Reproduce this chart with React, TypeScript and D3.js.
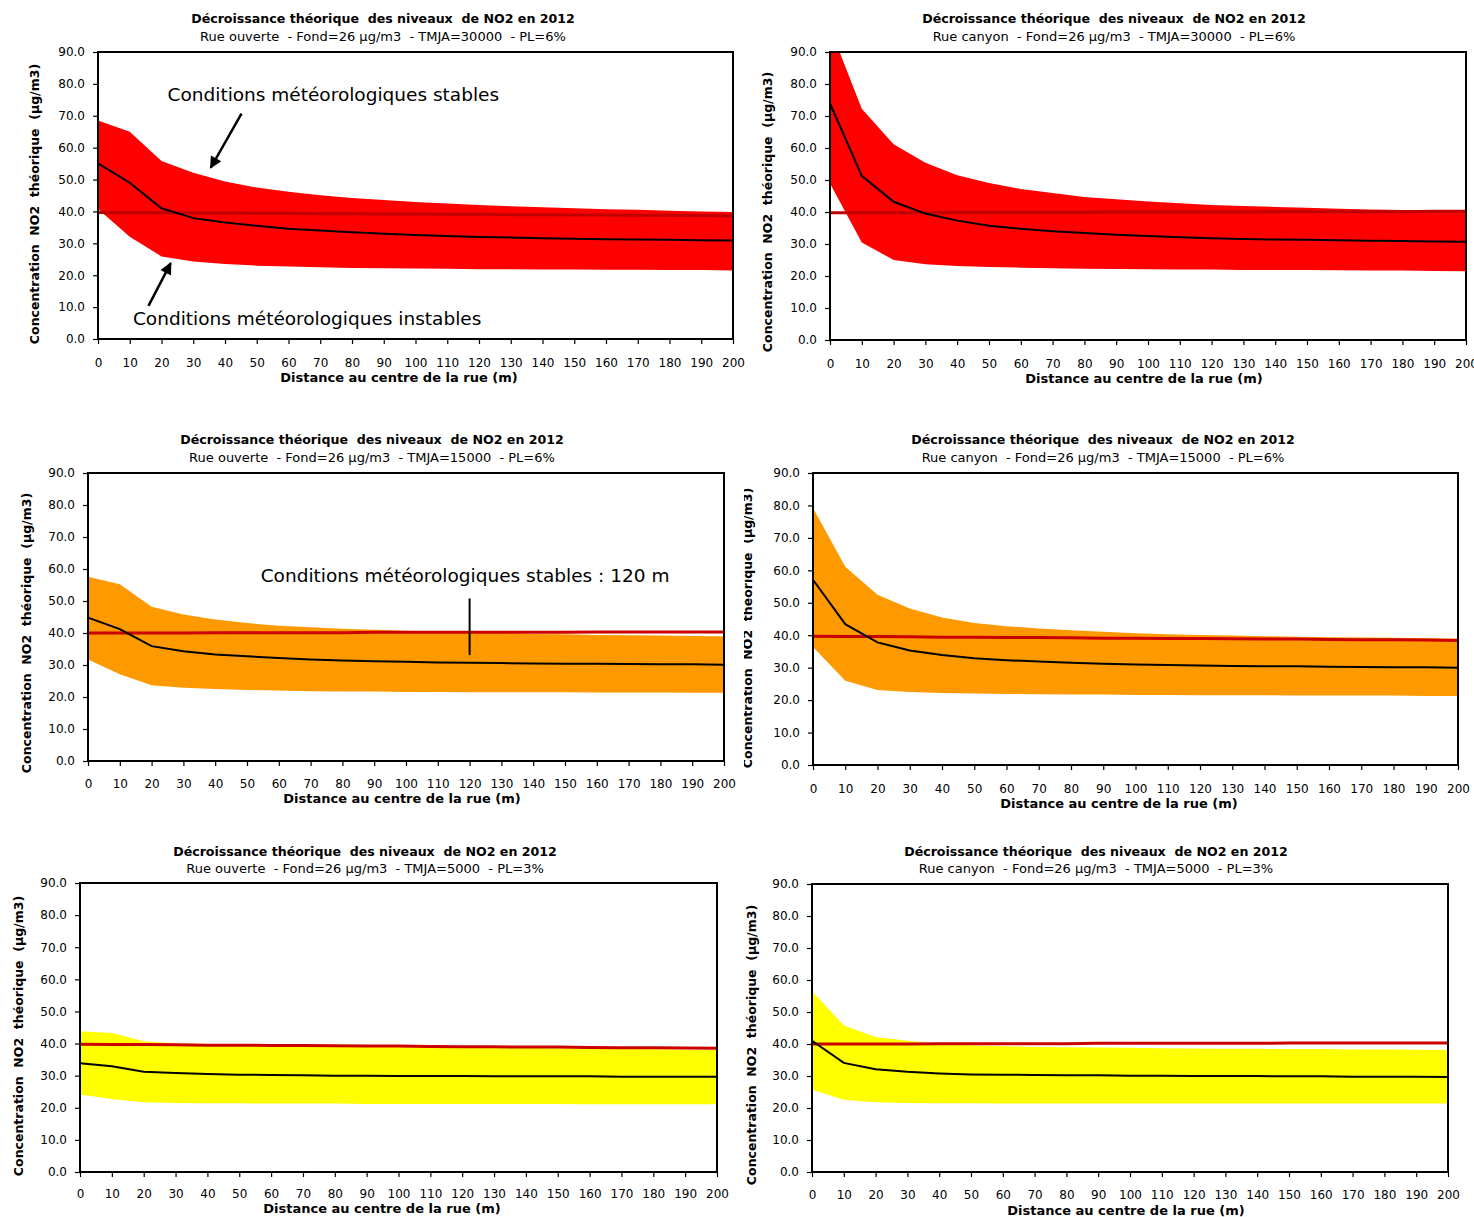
import React, { useEffect, useRef } from "react";
import * as d3 from "d3";

// distances (m) et graduations
const distances = [0, 10, 20, 30, 40, 50, 60, 70, 80, 90, 100, 110, 120, 130, 140, 150, 160, 170, 180, 190, 200];
const yTicks = [0, 10, 20, 30, 40, 50, 60, 70, 80, 90];

const titre = "Décroissance théorique  des niveaux  de NO2 en 2012";
const sousTitres = [
  "Rue ouverte  - Fond=26 µg/m3  - TMJA=30000  - PL=6%",
  "Rue canyon  - Fond=26 µg/m3  - TMJA=30000  - PL=6%",
  "Rue ouverte  - Fond=26 µg/m3  - TMJA=15000  - PL=6%",
  "Rue canyon  - Fond=26 µg/m3  - TMJA=15000  - PL=6%",
  "Rue ouverte  - Fond=26 µg/m3  - TMJA=5000  - PL=3%",
  "Rue canyon  - Fond=26 µg/m3  - TMJA=5000  - PL=3%",
];
const titreX = "Distance au centre de la rue (m)";
const titreY = "Concentration  NO2  théorique  (µg/m3)";

// Rue ouverte, TMJA 30000
const ouverte30000Haut = [68.5, 65.0, 55.8, 52.1, 49.4, 47.5, 46.2, 45.1, 44.2, 43.6, 43.0, 42.5, 42.0, 41.6, 41.3, 41.0, 40.7, 40.5, 40.2, 40.0, 39.8];
const ouverte30000Bas = [40.8, 32.1, 25.9, 24.3, 23.5, 23.0, 22.7, 22.5, 22.3, 22.2, 22.1, 22.0, 21.9, 21.9, 21.8, 21.8, 21.7, 21.7, 21.6, 21.6, 21.5];
const ouverte30000Moy = [55.1, 49.0, 41.0, 37.9, 36.5, 35.5, 34.6, 34.0, 33.5, 33.0, 32.6, 32.3, 32.0, 31.8, 31.6, 31.4, 31.3, 31.2, 31.1, 31.0, 30.9];
const ouverte30000Limite = [39.7, 39.6, 39.6, 39.5, 39.5, 39.4, 39.4, 39.3, 39.3, 39.2, 39.2, 39.1, 39.1, 39.0, 39.0, 38.9, 38.9, 38.8, 38.8, 38.7, 38.6];

// Rue canyon, TMJA 30000
const canyon30000Haut = [97.6, 72.3, 61.2, 55.4, 51.5, 49.1, 47.2, 45.9, 44.7, 44.0, 43.3, 42.7, 42.2, 41.9, 41.6, 41.3, 41.0, 40.8, 40.6, 40.5, 40.4];
const canyon30000Bas = [48.9, 30.5, 25.0, 23.7, 23.1, 22.8, 22.6, 22.4, 22.3, 22.2, 22.1, 22.0, 22.0, 21.9, 21.9, 21.9, 21.8, 21.7, 21.7, 21.6, 21.5];
const canyon30000Moy = [73.9, 51.3, 43.2, 39.5, 37.3, 35.7, 34.8, 34.0, 33.4, 32.9, 32.5, 32.1, 31.8, 31.6, 31.4, 31.3, 31.2, 31.0, 30.9, 30.8, 30.7];
const canyon30000Limite = [39.8, 39.8, 39.8, 39.8, 39.9, 39.9, 39.9, 39.9, 39.9, 40.0, 40.0, 40.0, 40.0, 40.0, 40.1, 40.1, 40.1, 40.1, 40.1, 40.2, 40.2];

// Rue ouverte, TMJA 15000
const ouverte15000Haut = [57.6, 55.2, 48.2, 45.8, 44.2, 43.1, 42.3, 41.8, 41.3, 41.0, 40.7, 40.4, 40.2, 40.0, 39.7, 39.6, 39.4, 39.3, 39.2, 39.1, 39.0];
const ouverte15000Bas = [31.7, 27.1, 23.7, 22.9, 22.5, 22.2, 22.0, 21.8, 21.7, 21.7, 21.6, 21.6, 21.5, 21.5, 21.5, 21.5, 21.4, 21.4, 21.4, 21.3, 21.3];
const ouverte15000Moy = [44.8, 41.2, 35.9, 34.3, 33.3, 32.7, 32.2, 31.7, 31.4, 31.2, 31.0, 30.8, 30.7, 30.6, 30.5, 30.4, 30.4, 30.3, 30.2, 30.2, 30.1];
const ouverte15000Limite = [40.0, 40.0, 40.0, 40.0, 40.1, 40.1, 40.1, 40.1, 40.1, 40.2, 40.2, 40.2, 40.2, 40.2, 40.2, 40.2, 40.3, 40.3, 40.3, 40.3, 40.3];

// Rue canyon, TMJA 15000
const canyon15000Haut = [79.2, 61.1, 52.5, 48.2, 45.5, 43.8, 42.8, 42.1, 41.5, 41.1, 40.6, 40.3, 40.1, 39.9, 39.7, 39.5, 39.4, 39.3, 39.2, 39.1, 39.0];
const canyon15000Bas = [36.4, 26.0, 23.1, 22.5, 22.2, 22.0, 21.9, 21.8, 21.7, 21.7, 21.6, 21.6, 21.5, 21.5, 21.5, 21.4, 21.4, 21.4, 21.4, 21.3, 21.3];
const canyon15000Moy = [57.1, 43.4, 37.8, 35.3, 33.9, 32.9, 32.3, 31.9, 31.5, 31.2, 31.0, 30.8, 30.7, 30.5, 30.4, 30.4, 30.3, 30.2, 30.1, 30.1, 30.0];
const canyon15000Limite = [39.7, 39.6, 39.6, 39.5, 39.4, 39.4, 39.3, 39.3, 39.2, 39.1, 39.1, 39.0, 39.0, 38.9, 38.8, 38.8, 38.7, 38.6, 38.6, 38.5, 38.4];

// Rue ouverte, TMJA 5000
const ouverte5000Haut = [43.8, 43.3, 40.7, 40.1, 39.8, 39.6, 39.5, 39.3, 39.2, 39.1, 39.0, 38.9, 38.8, 38.7, 38.6, 38.5, 38.4, 38.3, 38.2, 38.1, 38.0];
const ouverte5000Bas = [24.1, 22.7, 21.7, 21.5, 21.4, 21.4, 21.3, 21.3, 21.3, 21.2, 21.2, 21.2, 21.2, 21.2, 21.2, 21.2, 21.1, 21.1, 21.1, 21.1, 21.1];
const ouverte5000Moy = [33.9, 32.9, 31.2, 30.8, 30.5, 30.3, 30.2, 30.1, 30.0, 30.0, 29.9, 29.9, 29.9, 29.8, 29.8, 29.8, 29.8, 29.7, 29.7, 29.7, 29.7];
const ouverte5000Limite = [39.8, 39.7, 39.7, 39.6, 39.5, 39.5, 39.4, 39.4, 39.3, 39.2, 39.2, 39.1, 39.0, 39.0, 38.9, 38.9, 38.8, 38.7, 38.7, 38.6, 38.5];

// Rue canyon, TMJA 5000
const canyon5000Haut = [56.5, 45.8, 42.2, 41.0, 40.1, 39.6, 39.3, 39.1, 39.0, 38.9, 38.8, 38.7, 38.6, 38.5, 38.5, 38.4, 38.4, 38.3, 38.3, 38.2, 38.1];
const canyon5000Bas = [25.7, 22.6, 21.8, 21.6, 21.5, 21.5, 21.4, 21.4, 21.4, 21.4, 21.4, 21.4, 21.4, 21.4, 21.4, 21.4, 21.4, 21.4, 21.4, 21.4, 21.4];
const canyon5000Moy = [41.0, 34.1, 32.1, 31.3, 30.8, 30.5, 30.4, 30.3, 30.2, 30.2, 30.1, 30.1, 30.0, 30.0, 30.0, 29.9, 29.9, 29.8, 29.8, 29.8, 29.7];
const canyon5000Limite = [40.0, 40.0, 40.0, 40.0, 40.1, 40.1, 40.1, 40.1, 40.1, 40.2, 40.2, 40.2, 40.2, 40.2, 40.2, 40.3, 40.3, 40.3, 40.3, 40.3, 40.3];

const FONT = "'DejaVu Sans', Verdana, sans-serif";

const panels = [
  { haut: ouverte30000Haut, bas: ouverte30000Bas, moy: ouverte30000Moy, limite: ouverte30000Limite, fill: "#ff0000", limColor: "#c00000",
    left: 98, right: 733, top: 52, bottom: 339, tx: 383, ty: 19, sy: 36, xtx: 399, xty: 377, ytx: 35, yty: 204, labelPad: 14 },
  { haut: canyon30000Haut, bas: canyon30000Bas, moy: canyon30000Moy, limite: canyon30000Limite, fill: "#ff0000", limColor: "#c00000",
    left: 830, right: 1466, top: 52, bottom: 340, tx: 1114, ty: 19, sy: 36, xtx: 1144, xty: 378, ytx: 768, yty: 212, labelPad: 14 },
  { haut: ouverte15000Haut, bas: ouverte15000Bas, moy: ouverte15000Moy, limite: ouverte15000Limite, fill: "#ff9900", limColor: "#cc0000",
    left: 88, right: 724, top: 473, bottom: 761, tx: 372, ty: 440, sy: 457, xtx: 402, xty: 798, ytx: 27, yty: 633, labelPad: 13 },
  { haut: canyon15000Haut, bas: canyon15000Bas, moy: canyon15000Moy, limite: canyon15000Limite, fill: "#ff9900", limColor: "#cc0000",
    left: 813, right: 1458, top: 473, bottom: 765, tx: 1103, ty: 440, sy: 457, xtx: 1119, xty: 803, ytx: 748, yty: 628, labelPad: 14, clipLeft: 744 },
  { haut: ouverte5000Haut, bas: ouverte5000Bas, moy: ouverte5000Moy, limite: ouverte5000Limite, fill: "#ffff00", limColor: "#cc0000",
    left: 80, right: 717, top: 883, bottom: 1172, tx: 365, ty: 852, sy: 868, xtx: 382, xty: 1208, ytx: 19, yty: 1036, labelPad: 12 },
  { haut: canyon5000Haut, bas: canyon5000Bas, moy: canyon5000Moy, limite: canyon5000Limite, fill: "#ffff00", limColor: "#cc0000",
    left: 812, right: 1448, top: 884, bottom: 1172, tx: 1096, ty: 852, sy: 868, xtx: 1126, xty: 1210, ytx: 752, yty: 1045, labelPad: 13 },
];

// annotations (coordonnées en données)
const noteStable = { text: "Conditions météorologiques stables", x: 21.9, y: 76.7, from: [45.2, 70.7], to: [35.5, 53.7] };
const noteInstable = { text: "Conditions météorologiques instables", x: 11.0, y: 6.3, from: [15.9, 10.4], to: [22.9, 23.8] };
const noteDistance = { text: "Conditions météorologiques stables : 120 m", x: 54.3, y: 57.9, at: 120, y0: 33.1, y1: 50.8 };

export default function App() {
  const ref = useRef(null);

  useEffect(() => {
    const svg = d3.select(ref.current);
    svg.selectAll("*").remove();

    svg.append("defs")
      .append("marker")
      .attr("id", "fleche")
      .attr("viewBox", "0 0 10 10")
      .attr("refX", 9)
      .attr("refY", 5)
      .attr("markerUnits", "userSpaceOnUse")
      .attr("markerWidth", 14)
      .attr("markerHeight", 12)
      .attr("orient", "auto")
      .append("path")
      .attr("d", "M0,0L10,5L0,10Z")
      .attr("fill", "black");

    const scales = panels.map((p, i) => {
      const x = d3.scaleLinear().domain([0, 200]).range([p.left, p.right]);
      const y = d3.scaleLinear().domain([0, 90]).range([p.bottom, p.top]);

      const g = svg.append("g");
      if (p.clipLeft) {
        svg.select("defs").append("clipPath").attr("id", "panneau" + i)
          .append("rect").attr("x", p.clipLeft).attr("y", 0).attr("width", 800).attr("height", 1217);
        g.attr("clip-path", `url(#panneau${i})`);
      }
      svg.select("defs").append("clipPath").attr("id", "trace" + i)
        .append("rect").attr("x", p.left).attr("y", p.top)
        .attr("width", p.right - p.left).attr("height", p.bottom - p.top);

      const rows = distances.map((d, k) => ({ d, haut: p.haut[k], bas: p.bas[k], moy: p.moy[k], lim: p.limite[k] }));

      g.append("path")
        .datum(rows)
        .attr("clip-path", `url(#trace${i})`)
        .attr("fill", p.fill)
        .attr("d", d3.area().x(r => x(r.d)).y0(r => y(r.bas)).y1(r => y(r.haut)));

      g.append("path")
        .datum(rows)
        .attr("fill", "none")
        .attr("stroke", p.limColor)
        .attr("stroke-width", 3)
        .attr("d", d3.line().x(r => x(r.d)).y(r => y(r.lim)));

      g.append("path")
        .datum(rows)
        .attr("fill", "none")
        .attr("stroke", "black")
        .attr("stroke-width", 2)
        .attr("d", d3.line().x(r => x(r.d)).y(r => y(r.moy)));

      g.append("rect")
        .attr("x", p.left).attr("y", p.top)
        .attr("width", p.right - p.left).attr("height", p.bottom - p.top)
        .attr("fill", "none").attr("stroke", "black").attr("stroke-width", 2);

      const yAxis = g.append("g")
        .attr("transform", `translate(${p.left},0)`)
        .call(d3.axisLeft(y).tickValues(yTicks).tickFormat(d3.format(".1f")).tickSize(5).tickPadding(8));
      const xAxis = g.append("g")
        .attr("transform", `translate(0,${p.bottom})`)
        .call(d3.axisBottom(x).tickValues(distances).tickFormat(d3.format("d")).tickSize(5).tickPadding(p.labelPad));
      [yAxis, xAxis].forEach(a => {
        a.select(".domain").remove();
        a.selectAll("line").attr("stroke", "black").attr("stroke-width", 1.2);
        a.selectAll("text").attr("font-family", FONT).attr("font-size", 12).attr("fill", "black");
      });

      g.append("text")
        .attr("x", p.tx).attr("y", p.ty).attr("dy", "0.35em")
        .attr("text-anchor", "middle")
        .attr("font-family", FONT).attr("font-weight", "bold").attr("font-size", 12.6)
        .style("white-space", "pre")
        .text(titre);
      g.append("text")
        .attr("x", p.tx).attr("y", p.sy).attr("dy", "0.35em")
        .attr("text-anchor", "middle")
        .attr("font-family", FONT).attr("font-size", 13)
        .style("white-space", "pre")
        .text(sousTitres[i]);
      g.append("text")
        .attr("x", p.xtx).attr("y", p.xty).attr("dy", "0.35em")
        .attr("text-anchor", "middle")
        .attr("font-family", FONT).attr("font-weight", "bold").attr("font-size", 13)
        .text(titreX);
      g.append("text")
        .attr("transform", `translate(${p.ytx},${p.yty}) rotate(-90)`)
        .attr("dy", "0.35em")
        .attr("text-anchor", "middle")
        .attr("font-family", FONT).attr("font-weight", "bold").attr("font-size", 12.5)
        .style("white-space", "pre")
        .text(titreY);

      return { x, y, g };
    });

    // annotations du premier graphique
    const s1 = scales[0];
    [noteStable, noteInstable].forEach(n => {
      s1.g.append("text")
        .attr("x", s1.x(n.x)).attr("y", s1.y(n.y)).attr("dy", "0.35em")
        .attr("font-family", FONT).attr("font-size", 18.5).attr("fill", "black")
        .text(n.text);
      s1.g.append("line")
        .attr("x1", s1.x(n.from[0])).attr("y1", s1.y(n.from[1]))
        .attr("x2", s1.x(n.to[0])).attr("y2", s1.y(n.to[1]))
        .attr("stroke", "black").attr("stroke-width", 2.5)
        .attr("marker-end", "url(#fleche)");
    });

    // annotation du troisième graphique
    const s3 = scales[2];
    s3.g.append("text")
      .attr("x", s3.x(noteDistance.x)).attr("y", s3.y(noteDistance.y)).attr("dy", "0.35em")
      .attr("font-family", FONT).attr("font-size", 18.5).attr("fill", "black")
      .style("white-space", "pre")
      .text(noteDistance.text);
    s3.g.append("line")
      .attr("x1", s3.x(noteDistance.at)).attr("x2", s3.x(noteDistance.at))
      .attr("y1", s3.y(noteDistance.y0)).attr("y2", s3.y(noteDistance.y1))
      .attr("stroke", "black").attr("stroke-width", 2);
  }, []);

  return (
    <svg
      ref={ref}
      width={1474}
      height={1217}
      style={{ position: "absolute", left: 0, top: 0, background: "white" }}
    />
  );
}
